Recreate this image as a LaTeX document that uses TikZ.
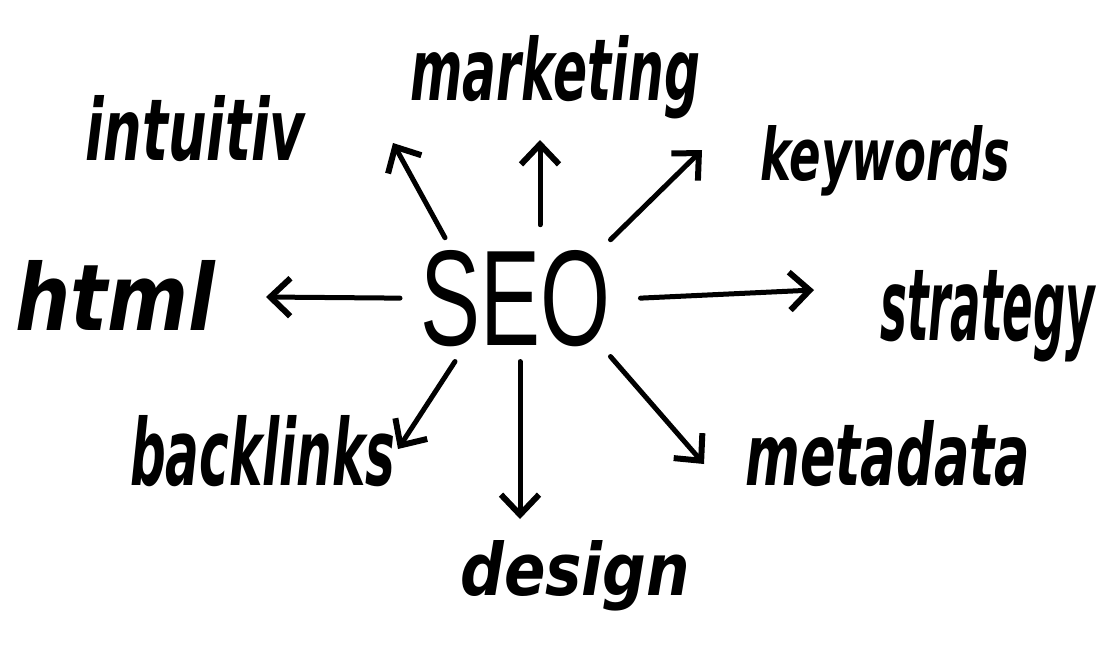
\documentclass[tikz,border=0pt]{standalone}
\usepackage{fontspec}
\setmainfont{DejaVu Sans}
\newfontfamily\seofont{Liberation Sans}
\usetikzlibrary{arrows.meta}
\newcommand{\hw}[3]{\resizebox{#1pt}{#2pt}{\bfseries\itshape #3}}
\begin{document}
\begin{tikzpicture}[x=1pt,y=-1pt,
  word/.style={inner sep=0pt, anchor=base west},
  arr/.style={line width=5pt, line cap=round, -{Straight Barb[length=20pt,width=38pt,line width=6pt]}}]
\useasboundingbox[fill=white] (0,0) rectangle (1102,646);
\node[word] (seo) at (420,345) {\resizebox{190pt}{95pt}{\seofont SEO}};
\node[word] (marketing) at (410,100) {\hw{290}{65}{marketing}};
\node[word] (intuitiv) at (85,160) {\hw{220}{65}{intuitiv}};
\node[word] (keywords) at (760,180) {\hw{250}{55}{keywords}};
\node[word] (html) at (15,330) {\hw{200}{70}{html}};
\node[word] (strategy) at (880,340) {\hw{215}{70}{strategy}};
\node[word] (backlinks) at (130,485) {\hw{265}{70}{backlinks}};
\node[word] (metadata) at (745,485) {\hw{285}{65}{metadata}};
\node[word] (design) at (460,595) {\hw{230}{55}{design}};
\coordinate (eM) at (540,140);
\coordinate (eI) at (393,143);
\coordinate (eK) at (702,150);
\coordinate (eH) at (266,297);
\coordinate (eS) at (814,290);
\coordinate (eB) at (398,449);
\coordinate (eD) at (520,519);
\coordinate (eMe) at (704,464);
\draw[arr] (seo.north west) ++(120,-25) -- (eM);
\draw[arr] (seo.north west) ++(25,-12) -- (eI);
\draw[arr] (seo.north east) ++(0,-10) -- (eK);
\draw[arr] (seo.west) ++(-20,0) -- (eH);
\draw[arr] (seo.east) ++(30,0) -- (eS);
\draw[arr] (seo.south west) ++(35,15) -- (eB);
\draw[arr] (seo.south west) ++(100,15) -- (eD);
\draw[arr] (seo.south east) ++(0,10) -- (eMe);
\end{tikzpicture}
\end{document}
